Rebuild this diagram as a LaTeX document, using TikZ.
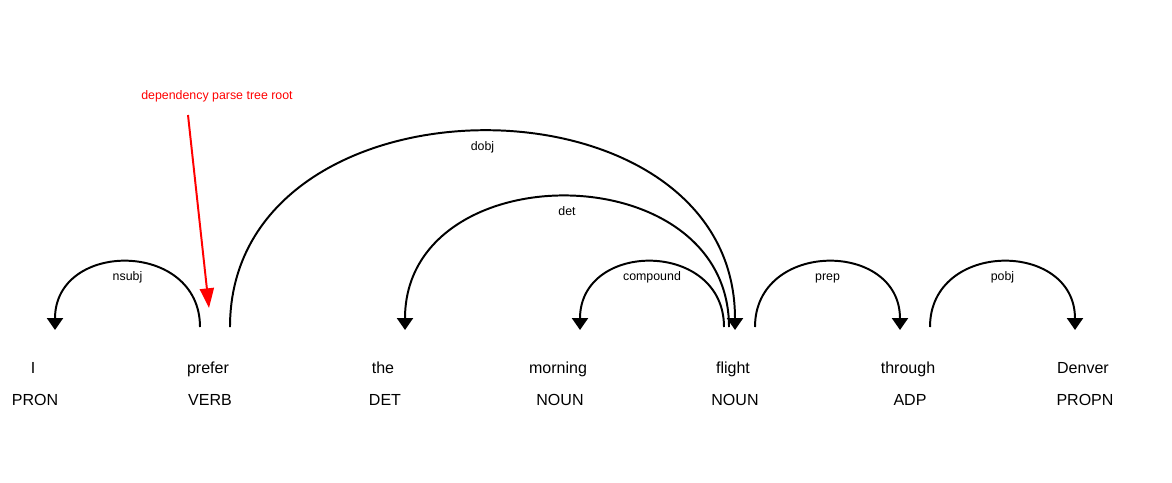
\documentclass[tikz,border=0pt]{standalone}
\usepackage{fontspec}
\setmainfont{Liberation Sans}
\usetikzlibrary{arrows.meta,positioning}
\tikzset{
  word/.style={font=\fontsize{11.4}{13}\selectfont, inner sep=0pt, anchor=base},
  tag/.style={font=\fontsize{11.4}{13}\selectfont, inner sep=0pt, anchor=base},
  dep/.style={line width=1.4pt, -{Triangle[width=11.4pt,length=8.5pt]}},
  lbl/.style={font=\fontsize{8.8}{10}\selectfont, inner sep=0pt, text height=1.6ex, text depth=.4ex, below=4pt},
  rootnote/.style={font=\fontsize{8.8}{10}\selectfont, text=red, inner sep=0pt},
  rootarrow/.style={red, line width=1.4pt, -{Triangle[width=10pt,length=14pt]}},
}

\begin{document}
\begin{tikzpicture}[x=0.025cm,y=-0.025cm]
\useasboundingbox (0,0) rectangle (1172,482);

% words and tags
\node[word] (w1) at (33,373) {I};
\node[word] (w2) at (208,373) {prefer};
\node[word] (w3) at (383,373) {the};
\node[word] (w4) at (558,373) {morning};
\node[word] (w5) at (733,373) {flight};
\node[word] (w6) at (908,373) {through};
\node[word] (w7) at (1083,373) {Denver};
\node[tag] (t1) at (35,405) {PRON};
\node[tag] (t2) at (210,405) {VERB};
\node[tag] (t3) at (385,405) {DET};
\node[tag] (t4) at (560,405) {NOUN};
\node[tag] (t5) at (735,405) {NOUN};
\node[tag] (t6) at (910,405) {ADP};
\node[tag] (t7) at (1085,405) {PROPN};

% arc ends
\coordinate (nsubj-s) at (200,327);
\coordinate (nsubj-e) at (55,330);
\coordinate (dobj-s) at (230,327);
\coordinate (dobj-e) at (735,330);
\coordinate (det-s) at (729,327);
\coordinate (det-e) at (405,330);
\coordinate (compound-s) at (724,327);
\coordinate (compound-e) at (580,330);
\coordinate (prep-s) at (755,327);
\coordinate (prep-e) at (900,330);
\coordinate (pobj-s) at (930,327);
\coordinate (pobj-e) at (1075,330);

\draw[dep] (nsubj-s) .. controls +(0,-87) and +(0,-90) .. node[lbl] (l-nsubj) {nsubj} (nsubj-e);
\draw[dep] (dobj-s) .. controls +(0,-261) and +(0,-264) .. node[lbl] (l-dobj) {dobj} (dobj-e);
\draw[dep] (det-s) .. controls +(0,-174) and +(0,-177) .. node[lbl] (l-det) {det} (det-e);
\draw[dep] (compound-s) .. controls +(0,-87) and +(0,-90) .. node[lbl] (l-compound) {compound} (compound-e);
\draw[dep] (prep-s) .. controls +(0,-87) and +(0,-90) .. node[lbl] (l-prep) {prep} (prep-e);
\draw[dep] (pobj-s) .. controls +(0,-87) and +(0,-90) .. node[lbl] (l-pobj) {pobj} (pobj-e);

% root note
\node[rootnote] (rootlbl) at (217,96) {dependency parse tree root};
\coordinate (root-from) at (188,115);
\coordinate (root-tip) at (209,308);
\draw[rootarrow] (root-from) -- (root-tip);
\end{tikzpicture}
\end{document}
